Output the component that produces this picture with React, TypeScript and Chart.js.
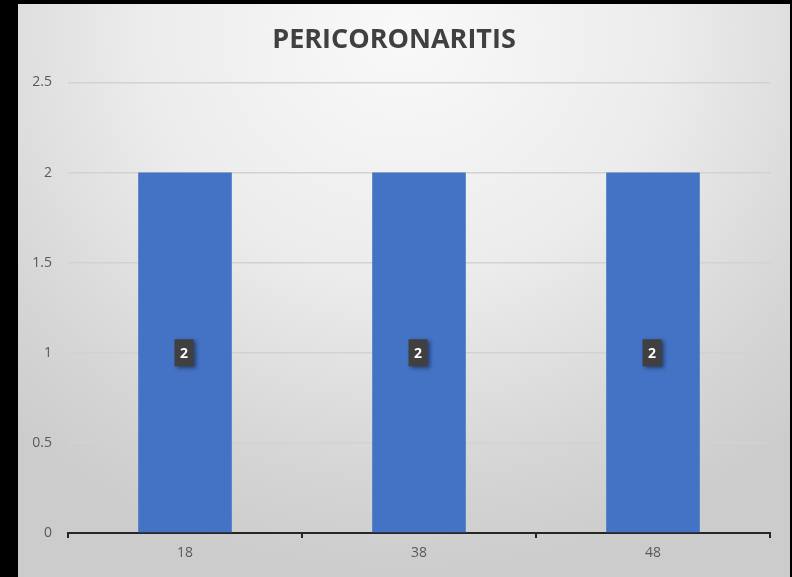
import React, { useEffect, useRef } from "react";
import { Chart, registerables } from "chart.js";

Chart.register(...registerables);

const categories = ["18", "38", "48"];
const values = [2, 2, 2];
const chartTitle = "PERICORONARITIS";
const yMin = 0;
const yMax = 2.5;
const yStep = 0.5;

const labelPlugin = {
  id: "boxLabels",
  afterDatasetsDraw(chart: any) {
    const ctx = chart.ctx;
    const meta = chart.getDatasetMeta(0);
    const yScale = chart.scales.y;
    meta.data.forEach((bar: any, i: number) => {
      const v = values[i];
      const x = bar.x;
      const y = yScale.getPixelForValue(v / 2);
      const text = String(v);
      ctx.save();
      ctx.font = "bold 14px 'Open Sans', sans-serif";
      const w = 19;
      const h = 27;
      ctx.shadowColor = "rgba(0,0,0,0.45)";
      ctx.shadowBlur = 4;
      ctx.shadowOffsetX = 2;
      ctx.shadowOffsetY = 2;
      ctx.fillStyle = "#404040";
      ctx.fillRect(x - w / 2 - 1, y - h / 2, w, h);
      ctx.shadowColor = "transparent";
      ctx.fillStyle = "#ffffff";
      ctx.textAlign = "center";
      ctx.textBaseline = "middle";
      ctx.fillText(text, x - 1, y + 1);
      ctx.restore();
    });
  },
};

export default function App() {
  const ref = useRef<HTMLCanvasElement | null>(null);
  useEffect(() => {
    if (!ref.current) return;
    const chart = new Chart(ref.current, {
      type: "bar",
      data: {
        labels: categories,
        datasets: [
          {
            data: values,
            backgroundColor: "#4472C4",
            barPercentage: 0.4,
            categoryPercentage: 1,
          },
        ],
      },
      options: {
        animation: false,
        responsive: false,
        maintainAspectRatio: false,
        layout: { padding: { left: 0, right: 20, top: 0, bottom: 0 } },
        plugins: {
          legend: { display: false },
          tooltip: { enabled: false },
          title: {
            display: true,
            text: chartTitle,
            color: "#404040",
            font: { family: "'Open Sans', sans-serif", size: 27, weight: "bold", lineHeight: 1.2 },
            padding: { top: 20, bottom: 26 },
          },
        },
        scales: {
          x: {
            grid: {
              display: true,
              drawOnChartArea: false,
              drawTicks: true,
              tickLength: 5,
              color: "#262626",
              lineWidth: 2,
              offset: true,
            },
            border: { display: true, color: "#262626", width: 2 },
            ticks: {
              color: "#595959",
              font: { family: "'Open Sans', sans-serif", size: 14 },
              padding: 7,
            },
            afterFit(scale: any) {
              scale.height = 44;
            },
          },
          y: {
            min: yMin,
            max: yMax,
            grid: { color: "#d2d2d2", lineWidth: 1.5, drawTicks: false },
            border: { display: false },
            ticks: {
              stepSize: yStep,
              color: "#595959",
              font: { family: "'Open Sans', sans-serif", size: 14 },
              padding: 16,
              callback: (v: any) => String(Number(v)),
            },
            afterFit(scale: any) {
              scale.width = 50;
            },
          },
        },
      },
      plugins: [labelPlugin],
    });
    return () => chart.destroy();
  }, []);

  return (
    <div
      style={{
        position: "absolute",
        left: 0,
        top: 0,
        width: 792,
        height: 577,
        background: "#000",
        overflow: "hidden",
      }}
    >
      <div
        style={{
          position: "absolute",
          left: 18,
          top: 4,
          width: 772,
          height: 573,
          background:
            "radial-gradient(ellipse 75% 95% at 50% 5%, #f9f9f9 0%, #ececec 45%, #d6d6d6 80%, #cccccc 100%)",
        }}
      >
        <canvas ref={ref} width={772} height={573} style={{ display: "block" }} />
      </div>
    </div>
  );
}
